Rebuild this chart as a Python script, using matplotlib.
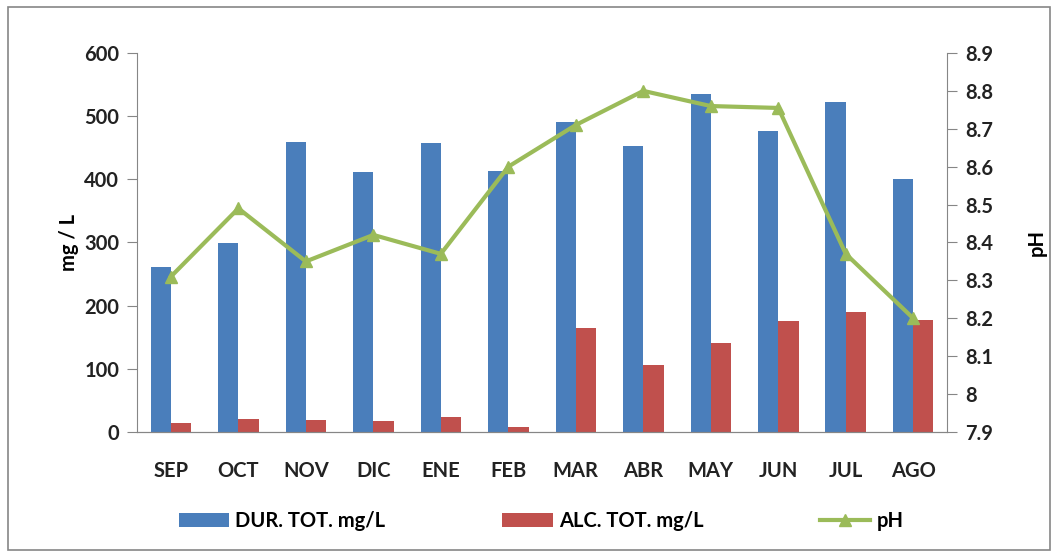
import matplotlib.pyplot as plt
from matplotlib.patches import Rectangle
import numpy as np

plt.rcParams['font.family'] = ['Lato', 'DejaVu Sans']
plt.rcParams['font.weight'] = 'bold'

# data
months = ['SEP', 'OCT', 'NOV', 'DIC', 'ENE', 'FEB', 'MAR', 'ABR', 'MAY', 'JUN', 'JUL', 'AGO']
dureza = [261, 299, 459, 411, 457, 413, 490, 452, 535, 476, 522, 400]
alcalinidad = [14, 20, 19, 18, 24, 8, 164, 106, 141, 175, 190, 177]
ph = [8.31, 8.49, 8.35, 8.42, 8.37, 8.60, 8.71, 8.80, 8.76, 8.755, 8.37, 8.20]

blue = '#4a7ebb'
red = '#c0504d'
green = '#9bbb59'

fig = plt.figure(figsize=(10.55, 5.56), dpi=100)
ax = fig.add_axes([0.13, 0.223, 0.7676, 0.6817])
ax2 = ax.twinx()

x = np.arange(len(months))
w = 0.3
ax.bar(x - w / 2, dureza, w, color=blue, label='DUR. TOT. mg/L', zorder=2)
ax.bar(x + w / 2, alcalinidad, w, color=red, label='ALC. TOT. mg/L', zorder=2)
ax2.plot(x, ph, color=green, lw=3, marker='^', markersize=9, label='pH')

ax.set_xlim(-0.5, len(months) - 0.5)
ax.set_ylim(0, 600)
ax.set_yticks(range(0, 601, 100))
ax2.set_ylim(7.9, 8.9)
ax2.set_yticks(np.arange(7.9, 8.95, 0.1))
ax2.set_yticklabels(['7.9', '8', '8.1', '8.2', '8.3', '8.4', '8.5', '8.6', '8.7', '8.8', '8.9'])

fs = 14.5
ax.set_xticks(x)
ax.set_xticklabels(months)
ax.tick_params(axis='x', length=0, pad=21, labelsize=fs, labelcolor='#222222')
ax.tick_params(axis='y', length=7, color='#868686', labelsize=fs, pad=6, labelcolor='#222222')
ax2.tick_params(axis='y', length=7, color='#868686', labelsize=fs, pad=6, labelcolor='#222222')

for a in (ax, ax2):
    a.spines['top'].set_visible(False)
    for s in ('left', 'right', 'bottom'):
        a.spines[s].set_color('#868686')
ax2.spines['left'].set_visible(False)
ax.spines['right'].set_visible(False)

ax.set_ylabel('mg / L', fontsize=fs, fontweight='bold', labelpad=4)
ax2.set_ylabel('pH', fontsize=fs, fontweight='bold', labelpad=24)

h1, l1 = ax.get_legend_handles_labels()
h2, l2 = ax2.get_legend_handles_labels()
fig.legend(h1 + h2, l1 + l2, loc='center', bbox_to_anchor=(0.513, 0.063), ncol=3,
           frameon=False, fontsize=fs, handlelength=2.5, handletextpad=0.3,
           columnspacing=5.8)

fig.patches.append(Rectangle((0.008, 0.01), 0.987, 0.977, transform=fig.transFigure,
                             fill=False, edgecolor='#868686', lw=1.2))

fig.savefig('out.png', dpi=100)
